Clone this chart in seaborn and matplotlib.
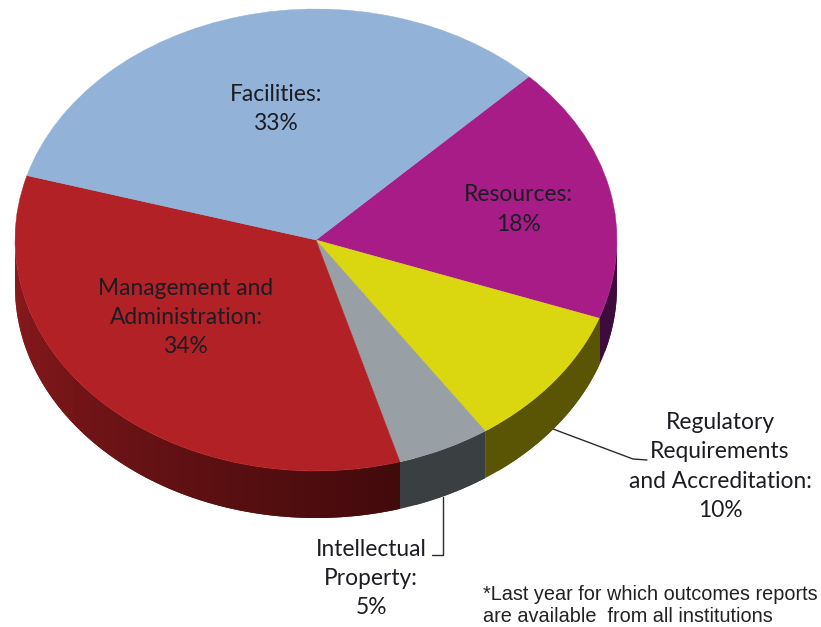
import numpy as np
import matplotlib
matplotlib.use("Agg")
import matplotlib.pyplot as plt
import seaborn as sns

W, H = 821, 627
CX, CY, RX, RY, DEPTH = 316, 240, 301, 231, 47

categories = ["Resources", "Regulatory Requirements and Accreditation",
              "Intellectual Property", "Management and Administration", "Facilities"]
values = [18, 10, 5, 34, 33]
top_colors = ["#A81C88", "#DAD60F", "#989FA5", "#B22126", "#93B2D8"]
side_left = ["#3D0B3C", "#5A5405", "#3A3F42", "#8C1A1D", "#4A5E78"]
side_right = ["#3D0B3C", "#5A5405", "#3A3F42", "#430A0C", "#4A5E78"]
start_angle = 45
footnote = "*Last year for which outcomes reports\nare available  from all institutions"

sns.set_theme(style="white")
fig = plt.figure(figsize=(W / 100, H / 100), dpi=100, facecolor="white")
ax = fig.add_axes([0, 0, 1, 1])


def X(px):
    return (px - CX) / RX


def Y(py):
    return (CY - py) / RY


# side wall: each slice is painted in overlapping strips so no seams show
edges = start_angle - np.cumsum([0] + values) * 3.6
d = DEPTH / RY
for a0, a1, cl, cr in zip(edges[:-1], edges[1:], side_left, side_right):
    lo, hi = max(a1, -180), min(a0, 0)
    if lo >= hi:
        continue
    n = max(int((hi - lo) / 3), 1)
    th = np.radians(np.linspace(lo, hi, n + 1))
    pal = sns.blend_palette([cl, cr], n)
    for i in range(n):
        t = np.linspace(th[i], th[min(i + 2, n)], 12)
        ax.fill_between(np.cos(t), np.sin(t) - d, np.sin(t),
                        facecolor=pal[i], edgecolor="none", lw=0, zorder=1)

wedges, _ = ax.pie(values, colors=top_colors, startangle=start_angle,
                   counterclock=False, radius=1,
                   wedgeprops=dict(linewidth=0.3, zorder=2))
for w, c in zip(wedges, top_colors):
    w.set_edgecolor(c)
    w.set_zorder(2)
ax.set_aspect("auto")
ax.set_xlim(X(0), X(W))
ax.set_ylim(Y(H), Y(0))
ax.set_axis_off()

# leader lines
ax.plot([X(553), X(633), X(647)], [Y(429), Y(459), Y(460)], color="#2b2b2b", lw=1.0, zorder=0.5)
ax.plot([X(443), X(443), X(432)], [Y(497), Y(555), Y(555)], color="#2b2b2b", lw=1.0, zorder=0.5)

labels = [
    ("Facilities:\n33%", 276, 109),
    ("Resources:\n18%", 518, 209.5),
    ("Management and\nAdministration:\n34%", 186, 317.5),
    ("Regulatory\nRequirements\nand Accreditation:\n10%", 720, 466.5),
    ("Intellectual\nProperty:\n5%", 371, 578.5),
]
for txt, x, y in labels:
    ax.text(X(x), Y(y), txt, ha="center", va="center", fontsize=16.4,
            family="Lato", color="#1c1c24", linespacing=1.49, zorder=5)

ax.text(X(483), Y(605.5), footnote, ha="left", va="center", fontsize=14.3,
        family="Liberation Sans", color="#222222", linespacing=1.25, zorder=5)

fig.savefig("out.png", dpi=100, facecolor="white")
